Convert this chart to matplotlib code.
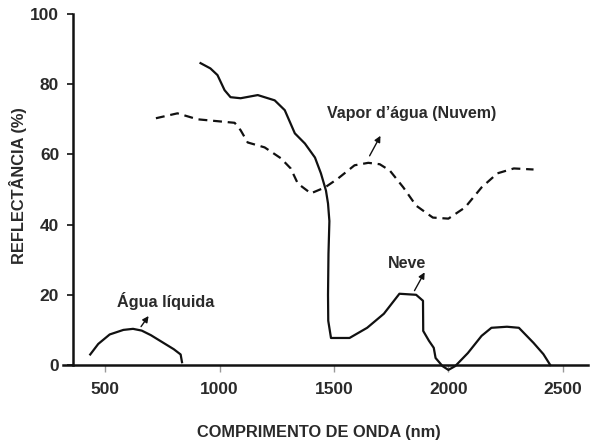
import matplotlib
matplotlib.use('Agg')
import matplotlib.pyplot as plt

plt.rcParams['font.family'] = ['Liberation Sans', 'DejaVu Sans']

# Agua liquida (solid)
agua_nm = [435, 470, 520, 580, 622, 660, 700, 750, 800, 830, 836]
agua_ref = [3.0, 6.0, 8.7, 10.0, 10.3, 9.8, 8.5, 6.5, 4.5, 3.0, 0.8]

# Neve (solid)
neve_nm = [917, 960, 991, 1022, 1048, 1092, 1167, 1241, 1285, 1329, 1373, 1417,
           1443, 1465, 1474, 1480, 1476, 1474, 1475, 1487, 1530, 1568, 1645, 1718,
           1786, 1859, 1889, 1890, 1915, 1936, 1944, 1974, 2000, 2030,
           2085, 2145, 2188, 2256, 2308, 2372, 2415, 2445]
neve_ref = [86.0, 84.5, 82.6, 78.3, 76.3, 76.0, 76.9, 75.4, 72.6, 66.0, 63.1, 59.1,
            54.6, 49.7, 46.0, 41.0, 31.7, 20.0, 12.6, 7.7, 7.7, 7.7, 10.6, 14.6,
            20.3, 20.0, 18.3, 9.7, 6.9, 4.9, 2.0, -0.3, -1.4, -0.3,
            3.4, 8.3, 10.6, 10.9, 10.6, 6.3, 3.1, 0.0]

# Vapor d'agua / Nuvem (dashed)
vapor_nm = [722, 816, 904, 1066, 1092, 1123, 1197, 1268, 1311, 1342, 1399, 1461,
            1517, 1590, 1650, 1700, 1744, 1803, 1859, 1932, 2000, 2073, 2145, 2214,
            2286, 2372]
vapor_ref = [70.3, 71.7, 70.0, 69.0, 66.9, 63.4, 62.0, 58.9, 56.0, 51.7, 48.9, 50.6,
             53.1, 56.9, 57.6, 57.2, 55.4, 50.6, 45.4, 42.0, 41.7, 44.9, 50.6, 54.6,
             56.0, 55.7]

x_ticks = [500, 1000, 1500, 2000, 2500]
y_ticks = [0, 20, 40, 60, 80, 100]

ink = '#111111'
txt = '#2a2a2a'

fig = plt.figure(figsize=(5.92, 4.44), dpi=100)
ax = fig.add_axes([63 / 592, 1 - 365 / 444, (588 - 63) / 592, (365 - 14) / 444])

ax.plot(agua_nm, agua_ref, color=ink, lw=1.6, clip_on=False,
        solid_joinstyle='round')
ax.plot(neve_nm, neve_ref, color=ink, lw=1.6, clip_on=False,
        solid_joinstyle='round')
ax.plot(vapor_nm, vapor_ref, color=ink, lw=1.6, dashes=(4, 2.6), clip_on=False)

ax.set_xlim(316, 2610)
ax.set_ylim(0, 100)

for s in ['top', 'right']:
    ax.spines[s].set_visible(False)
ax.spines['left'].set_position(('data', 360))
ax.spines['left'].set_linewidth(1.8)
ax.spines['bottom'].set_linewidth(1.8)
ax.spines['left'].set_color(ink)
ax.spines['bottom'].set_color(ink)

ax.set_xticks(x_ticks)
ax.set_yticks(y_ticks)
ax.tick_params(axis='x', length=5, width=1, color='#999999', pad=7,
               labelsize=12.5, labelcolor=txt)
ax.tick_params(axis='y', length=4, width=1.2, color=ink, pad=6,
               labelsize=12.5, labelcolor=txt)
for lab in ax.get_xticklabels() + ax.get_yticklabels():
    lab.set_fontweight('bold')

fig.text(18 / 592, 1 - 186 / 444, 'REFLECTÂNCIA (%)', rotation=90, ha='center',
         va='center', fontsize=11.8, fontweight='bold', color=txt)
fig.text(319 / 592, 1 - 432 / 444, 'COMPRIMENTO DE ONDA (nm)', ha='center',
         va='center', fontsize=11.8, fontweight='bold', color=txt)

arrow = dict(arrowstyle='-|>', color=ink, lw=1.0, mutation_scale=9)
ax.annotate('', xy=(697, 14.6), xytext=(650, 10.3), arrowprops=arrow)
ax.text(765, 18.3, 'Água líquida', ha='center', va='center', fontsize=11.7,
        fontweight='bold', color=txt)
ax.annotate('', xy=(1902, 27.1), xytext=(1846, 20.5), arrowprops=arrow)
ax.text(1820, 29.0, 'Neve', ha='center', va='center', fontsize=11.5,
        fontweight='bold', color=txt)
ax.annotate('', xy=(1709, 66.0), xytext=(1650, 58.9), arrowprops=arrow)
ax.text(1838, 71.7, 'Vapor d\u2019água (Nuvem)', ha='center', va='center',
        fontsize=11.5, fontweight='bold', color=txt)

fig.savefig('out.png', dpi=100)
